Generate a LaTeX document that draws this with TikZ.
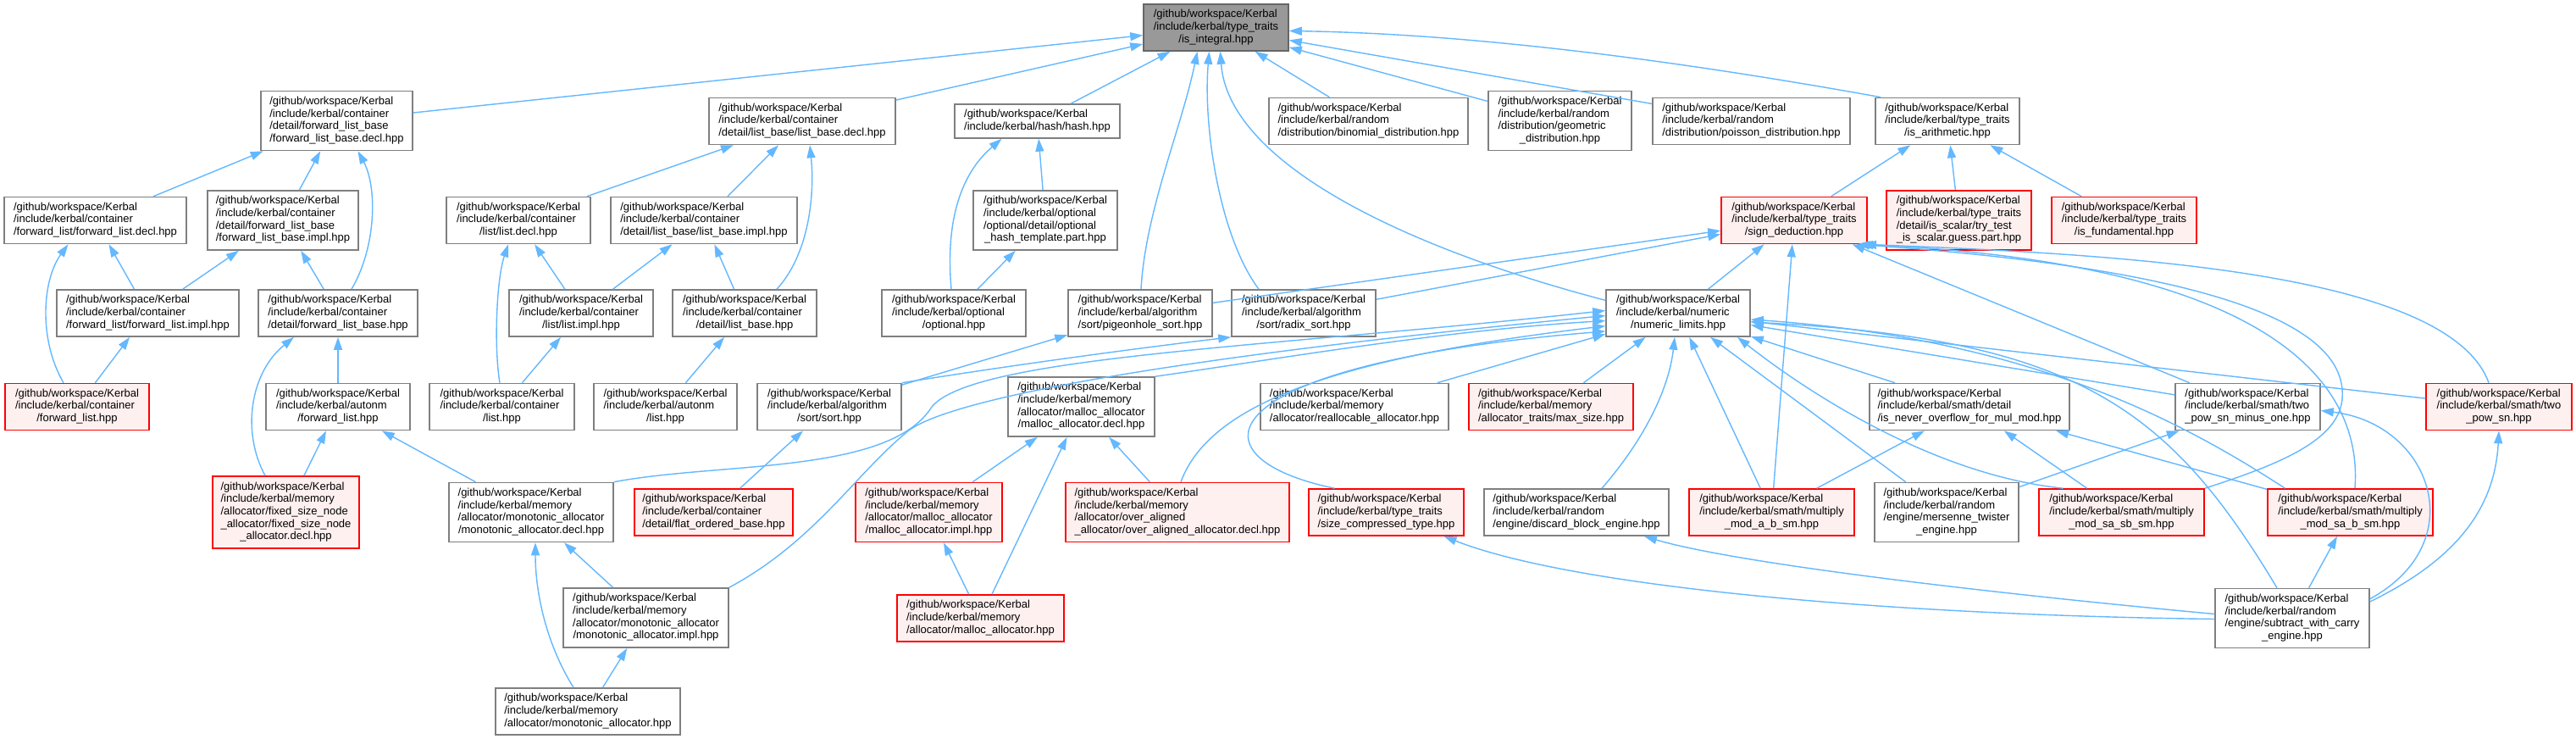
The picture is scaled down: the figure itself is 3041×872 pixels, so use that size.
\documentclass[tikz,border=0pt]{standalone}
\usepackage{fontspec}
\setmainfont{Liberation Sans}
\usetikzlibrary{arrows.meta}
\definecolor{edgec}{HTML}{63B8FF}
\definecolor{nodeb}{HTML}{7F7F7F}
\definecolor{redfill}{HTML}{FFF0F0}
\definecolor{rootfill}{HTML}{999999}
\definecolor{rootb}{HTML}{666666}
\newcommand\gw{/github/workspace/Kerbal}
\newcommand\lbl[2]{\begin{tabular}{@{}l@{}}#1\\\multicolumn{1}{@{}c@{}}{#2}\end{tabular}}
\tikzset{
 box/.style={draw=nodeb, fill=white, line width=1.6pt, inner sep=0pt, font=\fontsize{13}{14.7}\selectfont, text=black},
 redbox/.style={box, draw=red, fill=redfill},
 rootbox/.style={box, draw=rootb, fill=rootfill},
 hh2/.style={minimum height=40pt},
 hh3/.style={minimum height=55pt},
 hh4/.style={minimum height=70pt},
 hh5/.style={minimum height=85pt},
 dep/.style={draw=edgec, line width=1.4pt, -{Triangle[length=15pt,width=10pt]}},
}
\begin{document}
\begin{tikzpicture}[x=1pt,y=-1pt]
\useasboundingbox (0,0) rectangle (3041,872);
\fill[white] (0,0) rectangle (3041,872);
% row 0
\node[rootbox,hh3,minimum width=171pt] (root) at (1435.5,32.5) {\lbl{\gw\\/include/kerbal/type\_traits}{/is\_integral.hpp}};
% row 1
\node[box,hh4,minimum width=179pt] (fldecl) at (397.5,142.5) {\lbl{\gw\\/include/kerbal/container\\/detail/forward\_list\_base}{/forward\_list\_base.decl.hpp}};
\node[box,hh3,minimum width=220pt] (lbdecl) at (947,143) {\lbl{\gw\\/include/kerbal/container}{/detail/list\_base/list\_base.decl.hpp}};
\node[box,hh2,minimum width=195pt] (hash) at (1224.5,143) {\lbl{\gw}{/include/kerbal/hash/hash.hpp}};
\node[box,hh3,minimum width=235pt] (binom) at (1615.5,143) {\lbl{\gw\\/include/kerbal/random}{/distribution/binomial\_distribution.hpp}};
\node[box,hh4,minimum width=169pt] (geom) at (1841.5,142.5) {\lbl{\gw\\/include/kerbal/random\\/distribution/geometric}{\_distribution.hpp}};
\node[box,hh3,minimum width=233pt] (poisson) at (2067.5,143) {\lbl{\gw\\/include/kerbal/random}{/distribution/poisson\_distribution.hpp}};
\node[box,hh3,minimum width=170pt] (arith) at (2299,143) {\lbl{\gw\\/include/kerbal/type\_traits}{/is\_arithmetic.hpp}};
% row 2
\node[box,hh3,minimum width=215pt] (fdecl) at (112.5,260) {\lbl{\gw\\/include/kerbal/container}{/forward\_list/forward\_list.decl.hpp}};
\node[box,hh4,minimum width=178pt] (flimpl) at (334,260) {\lbl{\gw\\/include/kerbal/container\\/detail/forward\_list\_base}{/forward\_list\_base.impl.hpp}};
\node[box,hh3,minimum width=170pt] (ldecl) at (612,260) {\lbl{\gw\\/include/kerbal/container}{/list/list.decl.hpp}};
\node[box,hh3,minimum width=220pt] (lbimpl) at (831,260) {\lbl{\gw\\/include/kerbal/container}{/detail/list\_base/list\_base.impl.hpp}};
\node[box,hh4,minimum width=170pt] (opth) at (1234,260) {\lbl{\gw\\/include/kerbal/optional\\/optional/detail/optional}{\_hash\_template.part.hpp}};
\node[redbox,hh3,minimum width=172pt] (sign) at (2118,260) {\lbl{\gw\\/include/kerbal/type\_traits}{/sign\_deduction.hpp}};
\node[redbox,hh4,minimum width=171pt] (scalar) at (2312.5,260) {\lbl{\gw\\/include/kerbal/type\_traits\\/detail/is\_scalar/try\_test}{\_is\_scalar.guess.part.hpp}};
\node[redbox,hh3,minimum width=171pt] (fund) at (2507.5,260) {\lbl{\gw\\/include/kerbal/type\_traits}{/is\_fundamental.hpp}};
% row 3
\node[box,hh3,minimum width=215pt] (fimpl) at (174.5,369.5) {\lbl{\gw\\/include/kerbal/container}{/forward\_list/forward\_list.impl.hpp}};
\node[box,hh3,minimum width=188pt] (flbase) at (399,369.5) {\lbl{\gw\\/include/kerbal/container}{/detail/forward\_list\_base.hpp}};
\node[box,hh3,minimum width=170pt] (limpl) at (686,369.5) {\lbl{\gw\\/include/kerbal/container}{/list/list.impl.hpp}};
\node[box,hh3,minimum width=170pt] (lbase) at (879,369.5) {\lbl{\gw\\/include/kerbal/container}{/detail/list\_base.hpp}};
\node[box,hh3,minimum width=170pt] (opt) at (1126,369.5) {\lbl{\gw\\/include/kerbal/optional}{/optional.hpp}};
\node[box,hh3,minimum width=170pt] (pigeon) at (1346,369.5) {\lbl{\gw\\/include/kerbal/algorithm}{/sort/pigeonhole\_sort.hpp}};
\node[box,hh3,minimum width=170pt] (radix) at (1539,369.5) {\lbl{\gw\\/include/kerbal/algorithm}{/sort/radix\_sort.hpp}};
\node[box,hh3,minimum width=170pt] (numl) at (1981,369.5) {\lbl{\gw\\/include/kerbal/numeric}{/numeric\_limits.hpp}};
% row 4
\node[redbox,hh3,minimum width=170pt] (flist) at (91,480) {\lbl{\gw\\/include/kerbal/container}{/forward\_list.hpp}};
\node[box,hh3,minimum width=170pt] (afl) at (399,480) {\lbl{\gw\\/include/kerbal/autonm}{/forward\_list.hpp}};
\node[box,hh3,minimum width=171pt] (list) at (592.5,480) {\lbl{\gw\\/include/kerbal/container}{/list.hpp}};
\node[box,hh3,minimum width=169pt] (alist) at (785.5,480) {\lbl{\gw\\/include/kerbal/autonm}{/list.hpp}};
\node[box,hh3,minimum width=170pt] (sort) at (979,480) {\lbl{\gw\\/include/kerbal/algorithm}{/sort/sort.hpp}};
\node[box,hh4,minimum width=173pt] (mdecl) at (1276.5,480) {\lbl{\gw\\/include/kerbal/memory\\/allocator/malloc\_allocator}{/malloc\_allocator.decl.hpp}};
\node[box,hh3,minimum width=222pt] (realloc) at (1599,480) {\lbl{\gw\\/include/kerbal/memory}{/allocator/reallocable\_allocator.hpp}};
\node[redbox,hh3,minimum width=194pt] (maxs) at (1831,480) {\lbl{\gw\\/include/kerbal/memory}{/allocator\_traits/max\_size.hpp}};
\node[box,hh3,minimum width=236pt] (never) at (2325,480) {\lbl{\gw\\/include/kerbal/smath/detail}{/is\_never\_overflow\_for\_mul\_mod.hpp}};
\node[box,hh3,minimum width=171pt] (tpm1) at (2653.5,480) {\lbl{\gw\\/include/kerbal/smath/two}{\_pow\_sn\_minus\_one.hpp}};
\node[redbox,hh3,minimum width=172pt] (tp) at (2950,480) {\lbl{\gw\\/include/kerbal/smath/two}{\_pow\_sn.hpp}};
% row 5
\node[redbox,hh5,minimum width=173pt] (fixed) at (337.5,604.5) {\lbl{\gw\\/include/kerbal/memory\\/allocator/fixed\_size\_node\\\_allocator/fixed\_size\_node}{\_allocator.decl.hpp}};
\node[box,hh4,minimum width=194pt] (mono) at (627,604.5) {\lbl{\gw\\/include/kerbal/memory\\/allocator/monotonic\_allocator}{/monotonic\_allocator.decl.hpp}};
\node[redbox,hh3,minimum width=187pt] (flat) at (842.5,604.5) {\lbl{\gw\\/include/kerbal/container}{/detail/flat\_ordered\_base.hpp}};
\node[redbox,hh4,minimum width=173pt] (mimpl) at (1096.5,604.5) {\lbl{\gw\\/include/kerbal/memory\\/allocator/malloc\_allocator}{/malloc\_allocator.impl.hpp}};
\node[redbox,hh4,minimum width=264pt] (overal) at (1390,604.5) {\lbl{\gw\\/include/kerbal/memory\\/allocator/over\_aligned}{\_allocator/over\_aligned\_allocator.decl.hpp}};
\node[redbox,hh3,minimum width=183pt] (sizec) at (1636.5,604.5) {\lbl{\gw\\/include/kerbal/type\_traits}{/size\_compressed\_type.hpp}};
\node[box,hh3,minimum width=218pt] (discard) at (1861,604.5) {\lbl{\gw\\/include/kerbal/random}{/engine/discard\_block\_engine.hpp}};
\node[redbox,hh3,minimum width=195pt] (mab) at (2091.5,604.5) {\lbl{\gw\\/include/kerbal/smath/multiply}{\_mod\_a\_b\_sm.hpp}};
\node[box,hh4,minimum width=170pt] (mers) at (2298,604.5) {\lbl{\gw\\/include/kerbal/random\\/engine/mersenne\_twister}{\_engine.hpp}};
\node[redbox,hh3,minimum width=195pt] (msasb) at (2504.5,604.5) {\lbl{\gw\\/include/kerbal/smath/multiply}{\_mod\_sa\_sb\_sm.hpp}};
\node[redbox,hh3,minimum width=195pt] (msab) at (2774.5,604.5) {\lbl{\gw\\/include/kerbal/smath/multiply}{\_mod\_sa\_b\_sm.hpp}};
% row 6
\node[box,hh4,minimum width=195pt] (monoimpl) at (762.5,729) {\lbl{\gw\\/include/kerbal/memory\\/allocator/monotonic\_allocator}{/monotonic\_allocator.impl.hpp}};
\node[redbox,hh3,minimum width=197pt] (mhpp) at (1157.5,729.5) {\lbl{\gw\\/include/kerbal/memory}{/allocator/malloc\_allocator.hpp}};
\node[box,hh4,minimum width=182pt] (subc) at (2706,729.5) {\lbl{\gw\\/include/kerbal/random\\/engine/subtract\_with\_carry}{\_engine.hpp}};
% row 7
\node[box,hh3,minimum width=218pt] (monohpp) at (694,839.5) {\lbl{\gw\\/include/kerbal/memory}{/allocator/monotonic\_allocator.hpp}};

% ---- edges to root
\draw[dep] (fldecl) -- (root);
\draw[dep] (lbdecl) -- (root);
\draw[dep] (hash) -- (root);
\draw[dep] ([xshift=1pt]pigeon.north) .. controls (1352,250) and (1395,150) .. ([xshift=-22pt]root.south);
\draw[dep] ([xshift=-53pt]radix.north) .. controls (1440,280) and (1420,150) .. ([xshift=-8pt]root.south);
\draw[dep] (numl.170) .. controls (1650,290) and (1450,190) .. ([xshift=5pt]root.south);
\draw[dep] (binom) -- (root);
\draw[dep] (geom) -- (root);
\draw[dep] (poisson) -- (root);
\draw[dep] ([xshift=7pt]arith.north west) .. controls (2000,75) and (1750,40) .. ([yshift=-4pt]root.east);
% ---- forward list
\draw[dep] (fdecl) -- (fldecl);
\draw[dep] (flimpl) -- (fldecl);
\draw[dep] ([xshift=16pt]flbase.north) .. controls (445,290) and (445,220) .. ([xshift=25pt]fldecl.south);
\draw[dep] ([xshift=-16pt]flist.north) .. controls (45,400) and (50,330) .. ([xshift=-32pt]fdecl.south);
\draw[dep] (flist) -- (fimpl);
\draw[dep] (fimpl) -- (fdecl);
\draw[dep] (fimpl) -- (flimpl);
\draw[dep] (flbase) -- (flimpl);
\draw[dep] ([xshift=-24.5pt]fixed.north) .. controls (285,510) and (295,440) .. ([xshift=-52pt]flbase.south);
\draw[dep] (fixed) -- (afl);
\draw[dep] (afl) -- (flbase);
\draw[dep] (mono) -- (afl);
% ---- list
\draw[dep] (ldecl) -- (lbdecl);
\draw[dep] (lbimpl) -- (lbdecl);
\draw[dep] ([xshift=38pt]lbase.north) .. controls (955,300) and (962,230) .. ([xshift=9pt]lbdecl.south);
\draw[dep] ([xshift=-2.5pt]list.north) .. controls (583,410) and (586,330) .. ([xshift=-12pt]ldecl.south);
\draw[dep] (list) -- (limpl);
\draw[dep] (limpl) -- (ldecl);
\draw[dep] (limpl) -- (lbimpl);
\draw[dep] (lbase) -- (lbimpl);
\draw[dep] (alist) -- (lbase);
% ---- hash
\draw[dep] ([xshift=-3pt]opt.north) .. controls (1115,250) and (1140,200) .. ([xshift=-42pt]hash.south);
\draw[dep] (opth) -- (hash);
\draw[dep] (opt) -- (opth);
% ---- arithmetic
\draw[dep] (sign) -- (arith);
\draw[dep] (scalar) -- (arith);
\draw[dep] (fund) -- (arith);
% ---- sign deduction
\draw[dep] (pigeon) -- (sign);
\draw[dep] (radix) -- (sign);
\draw[dep] (numl) -- (sign);
\draw[dep] (mab) -- (sign);
\draw[dep] (tpm1) -- (sign);
\draw[dep] ([xshift=-12pt]tp.north) .. controls (2890,320) and (2500,300) .. ([xshift=82pt]sign.south);
\draw[dep] ([xshift=5.5pt]msab.north) .. controls (2790,440) and (2660,310) .. ([xshift=78pt]sign.south);
\draw[dep] (msasb.north east) .. controls (2700,545) and (2770,515) .. (2765,460) .. controls (2760,390) and (2640,320) .. ([xshift=74pt]sign.south);
% ---- numeric limits
\draw[dep] (realloc) -- (numl);
\draw[dep] (maxs) -- (numl);
\draw[dep] ([xshift=30pt]discard.north) .. controls (1940,520) and (1970,460) .. ([xshift=-4pt]numl.south);
\draw[dep] (mab) -- (numl);
\draw[dep] (mers) -- (numl);
\draw[dep] (never) -- (numl);
\draw[dep] ([xshift=-69pt]msasb.north) .. controls (2280,560) and (2130,460) .. ([xshift=70pt]numl.south);
\draw[dep] (tpm1) -- (numl);
\draw[dep] (tp) -- (numl);
\draw[dep] ([xshift=-77pt]msab.north) .. controls (2580,500) and (2400,400) .. (numl.-5);
\draw[dep] ([xshift=-18pt]subc.north) .. controls (2560,480) and (2450,400) .. (numl.-7);
\draw[dep] (mdecl.north east) .. controls (1500,425) and (1700,390) .. (numl.186);
\draw[dep] ([xshift=4pt]overal.north) .. controls (1430,470) and (1600,420) .. (numl.190);
\draw[dep] ([xshift=-61pt]sizec.north) .. controls (1400,540) and (1420,430) .. (numl.194);
\draw[dep] (mono.north east) .. controls (850,545) and (1050,560) .. (1100,480) .. controls (1150,420) and (1500,410) .. (numl.178);
\draw[dep] (monoimpl.north east) .. controls (960,640) and (1010,560) .. (1068,512) .. controls (1110,470) and (1400,420) .. (numl.182);
% ---- sort
\draw[dep] (flat) -- (sort);
\draw[dep] (sort) -- (pigeon);
\draw[dep] (sort.north east) .. controls (1200,430) and (1350,410) .. (radix.south west);
% ---- malloc
\draw[dep] (mimpl) -- (mdecl);
\draw[dep] (mhpp) -- (mdecl);
\draw[dep] (overal) -- (mdecl);
\draw[dep] (mhpp) -- (mimpl);
% ---- monotonic
\draw[dep] (monoimpl) -- (mono);
\draw[dep] (monohpp) -- (monoimpl);
\draw[dep] ([xshift=-17pt]monohpp.north) .. controls (645,760) and (632,700) .. ([xshift=5pt]mono.south);
% ---- smath
\draw[dep] (mab) -- (never);
\draw[dep] (msasb) -- (never);
\draw[dep] (msab) -- (never);
\draw[dep] (mers) -- (tpm1);
\draw[dep] (subc) -- (msab);
\draw[dep] (subc.14) .. controls (2920,640) and (2870,500) .. (tpm1.-3);
\draw[dep] (subc.12) .. controls (2900,660) and (2945,600) .. (tp.south);
\draw[dep] ([yshift=-1pt]subc.west) .. controls (2200,725) and (1850,690) .. ([xshift=68pt]sizec.south);
\draw[dep] ([yshift=5pt]subc.west) .. controls (2350,700) and (2050,665) .. ([xshift=80pt]discard.south);
\end{tikzpicture}
\end{document}
